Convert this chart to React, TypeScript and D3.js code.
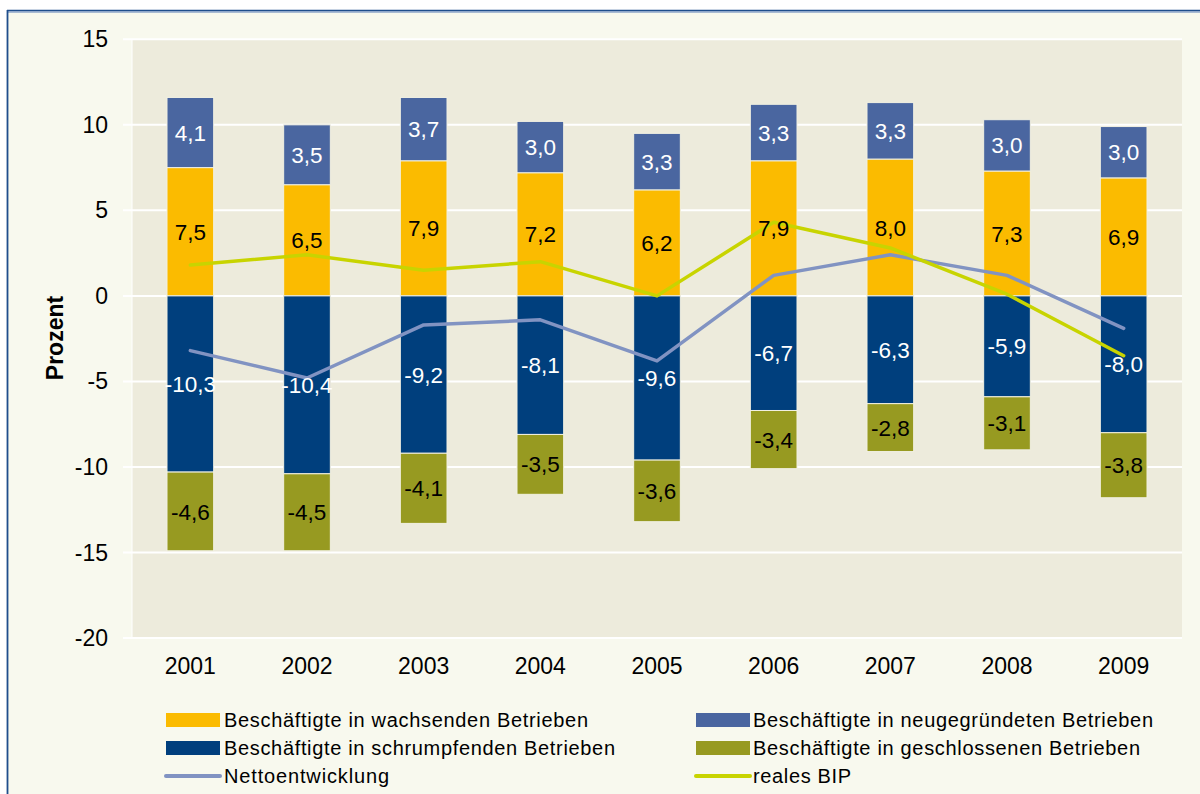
import React from 'react';
import * as d3 from 'd3';

const years = ['2001', '2002', '2003', '2004', '2005', '2006', '2007', '2008', '2009'];
const wachsend = [7.5, 6.5, 7.9, 7.2, 6.2, 7.9, 8.0, 7.3, 6.9];
const neu = [4.1, 3.5, 3.7, 3.0, 3.3, 3.3, 3.3, 3.0, 3.0];
const schrumpf = [-10.3, -10.4, -9.2, -8.1, -9.6, -6.7, -6.3, -5.9, -8.0];
const geschlossen = [-4.6, -4.5, -4.1, -3.5, -3.6, -3.4, -2.8, -3.1, -3.8];
const netto = [-3.2, -4.8, -1.7, -1.4, -3.8, 1.2, 2.4, 1.2, -1.9];
const bip = [1.8, 2.4, 1.5, 2.0, 0.0, 4.3, 2.8, 0.1, -3.5];
const yTicks = [15, 10, 5, 0, -5, -10, -15, -20];

const legendItems = [
  { label: 'Beschäftigte in wachsenden Betrieben', color: '#fbbb00', kind: 'rect', col: 0, row: 0, w: 364 },
  { label: 'Beschäftigte in neugegründeten Betrieben', color: '#4a66a0', kind: 'rect', col: 1, row: 0, w: 400 },
  { label: 'Beschäftigte in schrumpfenden Betrieben', color: '#003f7d', kind: 'rect', col: 0, row: 1, w: 391 },
  { label: 'Beschäftigte in geschlossenen Betrieben', color: '#979a21', kind: 'rect', col: 1, row: 1, w: 387 },
  { label: 'Nettoentwicklung', color: '#8193c2', kind: 'line', col: 0, row: 2, w: 165 },
  { label: 'reales BIP', color: '#c8d400', kind: 'line', col: 1, row: 2, w: 98 },
];

const FONT = '"Liberation Sans", Arial, sans-serif';
const fmt = (v: number) => v.toFixed(1).replace('.', ',');

export default function App() {
  const W = 1200, H = 794;
  const plotL = 132, plotR = 1182, plotT = 39.3, plotB = 638;
  const y = d3.scaleLinear().domain([-20, 15]).range([plotB, plotT]);
  const x = d3.scaleBand<string>().domain(years).range([plotL, plotR]).paddingInner(0.6).paddingOuter(0.3);
  const bw = x.bandwidth();
  const cx = (yr: string) => (x(yr) as number) + bw / 2;

  const segs: { yr: string; y0: number; y1: number; v: number; color: string; text: string }[] = [];
  years.forEach((yr, i) => {
    segs.push({ yr, y0: 0, y1: wachsend[i], v: wachsend[i], color: '#fbbb00', text: '#000' });
    segs.push({ yr, y0: wachsend[i], y1: wachsend[i] + neu[i], v: neu[i], color: '#4a66a0', text: '#fff' });
    segs.push({ yr, y0: 0, y1: schrumpf[i], v: schrumpf[i], color: '#003f7d', text: '#fff' });
    segs.push({ yr, y0: schrumpf[i], y1: schrumpf[i] + geschlossen[i], v: geschlossen[i], color: '#979a21', text: '#000' });
  });

  const line = d3.line<number>().x((_, i) => cx(years[i])).y((d) => y(d));

  const legX = [166, 696];
  const legTextX = [224, 753];
  const legY = [720, 748, 776];

  return (
    <svg width={W} height={H} style={{ position: 'absolute', left: 0, top: 0 }} fontFamily={FONT}>
      <rect x={0} y={0} width={W} height={H} fill="#ffffff" />
      <rect x={8} y={12} width={W - 8} height={H - 12} fill="#f8f9ee" />
      <line x1={7} x2={W} y1={10.5} y2={10.5} stroke="#1f4e8c" strokeWidth={1.5} />
      <line x1={7} x2={W} y1={12} y2={12} stroke="#5a7fb5" strokeWidth={1} />
      <line x1={7.5} x2={7.5} y1={10} y2={H} stroke="#1f4e8c" strokeWidth={1.8} />

      <rect x={plotL} y={plotT} width={plotR - plotL} height={plotB - plotT} fill="#edebdc" />
      {yTicks.map((t) => (
        <g key={t}>
          <line x1={123} x2={plotR} y1={y(t)} y2={y(t)} stroke="#ffffff" strokeWidth={2} />
          <text x={108} y={y(t)} dy="0.35em" textAnchor="end" fontSize={23} fill="#000">{t}</text>
        </g>
      ))}
      <line x1={plotL} x2={plotL} y1={plotT} y2={plotB} stroke="#ffffff" strokeWidth={1} />

      {segs.map((s, i) => (
        <rect key={i} x={x(s.yr)} y={y(Math.max(s.y0, s.y1))} width={bw}
          height={Math.abs(y(s.y0) - y(s.y1))} fill={s.color} stroke="#f1f0e2" strokeWidth={1} />
      ))}

      <path d={line(netto) || ''} fill="none" stroke="#8193c2" strokeWidth={3.5} strokeLinecap="round" strokeLinejoin="round" />
      <path d={line(bip) || ''} fill="none" stroke="#c8d400" strokeWidth={3.5} strokeLinecap="round" strokeLinejoin="round" />

      {segs.map((s, i) => (
        <text key={'l' + i} x={cx(s.yr)} y={y((s.y0 + s.y1) / 2)} dy="0.36em" textAnchor="middle"
          fontSize={22.5} fill={s.text}>{fmt(s.v)}</text>
      ))}

      {years.map((yr) => (
        <text key={yr} x={cx(yr)} y={674} textAnchor="middle" fontSize={23} fill="#000">{yr}</text>
      ))}

      <text transform={`translate(63,338) rotate(-90)`} textAnchor="middle" fontSize={23} fontWeight="bold" fill="#000">Prozent</text>

      {legendItems.map((it) => (
        <g key={it.label}>
          {it.kind === 'rect' ? (
            <rect x={legX[it.col]} y={legY[it.row] - 7} width={54} height={14} fill={it.color} />
          ) : (
            <line x1={legX[it.col]} x2={legX[it.col] + 54} y1={legY[it.row]} y2={legY[it.row]} stroke={it.color} strokeWidth={4} strokeLinecap="round" />
          )}
          <text x={legTextX[it.col]} y={legY[it.row] + 7} fontSize={20} fill="#000"
            textLength={it.w} lengthAdjust="spacing">{it.label}</text>
        </g>
      ))}
    </svg>
  );
}
